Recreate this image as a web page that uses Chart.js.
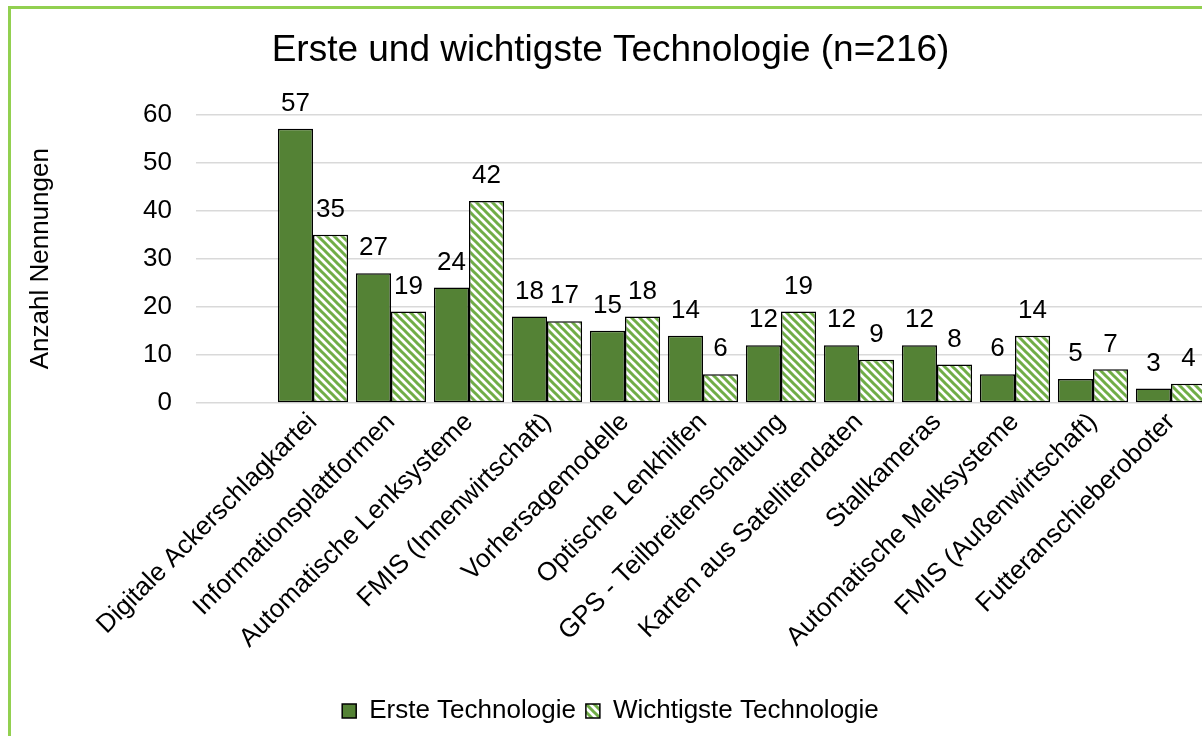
<!DOCTYPE html>
<html>
<head>
<meta charset="utf-8">
<script src="https://cdn.jsdelivr.net/npm/chart.js@4/dist/chart.umd.min.js"></script>
<style>
  html, body { margin: 0; padding: 0; background: #fff; overflow: hidden; }
  #frame {
    position: absolute; left: 8px; top: 6px;
    width: 1230px; height: 760px;
    border: 3px solid #92D050;
    background: #fff;
  }
  #wrap { position: relative; width: 1216px; height: 727px; }
</style>
</head>
<body>
<div id="frame"><div id="wrap"><canvas id="myChart"></canvas></div></div>
<script>
let categories = ['Digitale Ackerschlagkartei', 'Informationsplattformen', 'Automatische Lenksysteme',
  'FMIS (Innenwirtschaft)', 'Vorhersagemodelle', 'Optische Lenkhilfen', 'GPS - Teilbreitenschaltung',
  'Karten aus Satellitendaten', 'Stallkameras', 'Automatische Melksysteme', 'FMIS (Außenwirtschaft)',
  'Futteranschieberoboter'];
let ersteData = [57, 27, 24, 18, 15, 14, 12, 12, 12, 6, 5, 3];
let wichtigsteData = [35, 19, 42, 17, 18, 6, 19, 9, 8, 14, 7, 4];
let yTicks = [0, 10, 20, 30, 40, 50, 60];

let darkGreen = '#548235';
let stripeGreen = '#70AD47';
let fontName = '"Liberation Sans", Arial, sans-serif';

// diagonal stripe fill for the second series
function makeStripes() {
  let c = document.createElement('canvas');
  c.width = 8; c.height = 8;
  let g = c.getContext('2d');
  g.fillStyle = '#fff';
  g.fillRect(0, 0, 8, 8);
  g.strokeStyle = stripeGreen;
  g.lineWidth = 3;
  g.beginPath();
  g.moveTo(-2, -2); g.lineTo(10, 10);
  g.moveTo(-10, -2); g.lineTo(2, 10);
  g.moveTo(6, -2); g.lineTo(18, 10);
  g.stroke();
  return g.createPattern(c, 'repeat');
}
let stripes = makeStripes();

// empty first slot keeps the gridlines starting left of the first group
let labels = [''].concat(categories);

let valueLabels = {
  id: 'valueLabels',
  afterDatasetsDraw(chart) {
    let ctx = chart.ctx;
    ctx.save();
    ctx.font = '26px ' + fontName;
    ctx.fillStyle = '#000';
    ctx.textAlign = 'center';
    ctx.textBaseline = 'middle';
    chart.data.datasets.forEach((ds, i) => {
      chart.getDatasetMeta(i).data.forEach((bar, j) => {
        if (ds.data[j] == null) return;
        ctx.fillText(ds.data[j], bar.x, bar.y - 25);
      });
    });
    ctx.restore();
  }
};

let myChart = document.getElementById('myChart').getContext('2d');

let chart = new Chart(myChart, {
  type: 'bar',
  data: {
    labels: labels,
    datasets: [
      {
        label: 'Erste Technologie',
        data: [null].concat(ersteData),
        backgroundColor: darkGreen,
        borderColor: '#000',
        borderWidth: 1.5,
        borderSkipped: false
      },
      {
        label: 'Wichtigste Technologie',
        data: [null].concat(wichtigsteData),
        backgroundColor: stripes,
        borderColor: '#000',
        borderWidth: 1.5,
        borderSkipped: false
      }
    ]
  },
  plugins: [valueLabels],
  options: {
    responsive: true,
    maintainAspectRatio: false,
    animation: false,
    datasets: { bar: { categoryPercentage: 0.9, barPercentage: 1.0 } },
    layout: { padding: { left: 0, right: 17, top: 0, bottom: 2 } },
    plugins: {
      title: {
        display: true,
        text: 'Erste und wichtigste Technologie (n=216)',
        color: '#000',
        font: { family: fontName, size: 37, weight: 'normal' },
        padding: { top: 20, bottom: 41 }
      },
      legend: {
        display: true,
        position: 'bottom',
        labels: {
          color: '#000',
          font: { family: fontName, size: 26 },
          boxWidth: 14,
          boxHeight: 14,
          padding: 10
        }
      },
      tooltip: { enabled: false }
    },
    scales: {
      x: {
        grid: { display: false, drawTicks: false },
        border: { display: false },
        ticks: {
          color: '#000',
          font: { family: fontName, size: 26 },
          autoSkip: false,
          minRotation: 45,
          maxRotation: 45,
          padding: 4
        },
        afterFit(scale) { scale.height = 285; }
      },
      y: {
        min: 0,
        max: 60,
        grid: { color: '#D9D9D9', lineWidth: 1.5, drawTicks: false },
        border: { display: false },
        afterBuildTicks(scale) { scale.ticks = yTicks.map(v => ({ value: v })); },
        ticks: {
          color: '#000',
          font: { family: fontName, size: 26 },
          padding: 24
        },
        title: {
          display: true,
          text: 'Anzahl Nennungen',
          color: '#000',
          font: { family: fontName, size: 26 },
          padding: { top: 14, bottom: 0 }
        },
        afterFit(scale) { scale.width = 185; }
      }
    }
  }
});
</script>
</body>
</html>
